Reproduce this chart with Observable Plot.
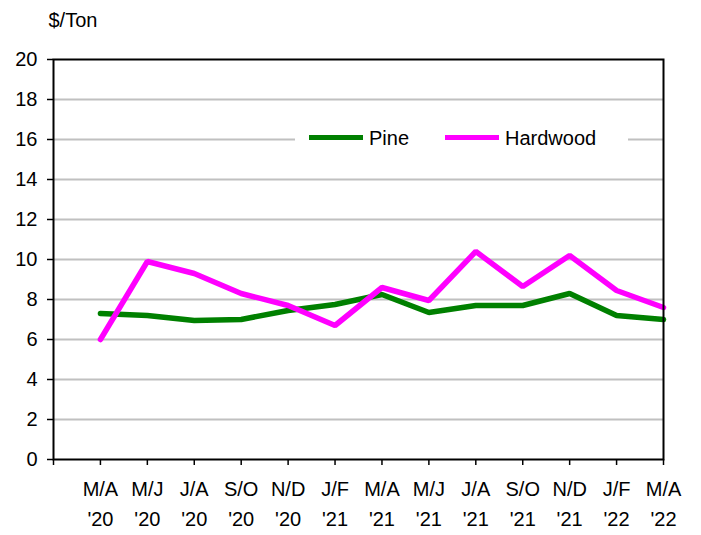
<!DOCTYPE html>
<html>
<head>
<meta charset="utf-8">
<script src="https://cdn.jsdelivr.net/npm/d3@7"></script>
<script src="https://cdn.jsdelivr.net/npm/@observablehq/plot@0.6"></script>
<style>
  body { margin: 0; background: #fff; font-family: "Liberation Sans", Arial, sans-serif; }
  #wrap { position: relative; width: 701px; height: 535px; }
  #legend { position: absolute; left: 295px; top: 126px; width: 333px; height: 24px; background: #fff; }
  .sw { position: absolute; height: 5px; top: 9px; }
  .lt { position: absolute; top: 0px; font-size: 20px; line-height: 24px; color: #000; }
</style>
</head>
<body>
<div id="wrap"></div>
<script>
const categories = ["M/A '20","M/J '20","J/A '20","S/O '20","N/D '20","J/F '21","M/A '21","M/J '21","J/A '21","S/O '21","N/D '21","J/F '22","M/A '22"];
const pine =     [7.3, 7.2, 6.95, 7.0, 7.45, 7.75, 8.25, 7.35, 7.7, 7.7, 8.3, 7.2, 7.0];
const hardwood = [6.0, 9.9, 9.3, 8.3, 7.7, 6.7, 8.6, 7.95, 10.4, 8.65, 10.2, 8.45, 7.6];
const yTicks = [0, 2, 4, 6, 8, 10, 12, 14, 16, 18, 20];
const seriesNames = ["Pine", "Hardwood"];
const seriesColors = ["#008000", "#ff00ff"];

const data = categories.flatMap((c, i) => [
  {cat: c, series: "Pine", value: pine[i]},
  {cat: c, series: "Hardwood", value: hardwood[i]}
]);
const xDomain = ["", ...categories];

const chart = Plot.plot({
  width: 701, height: 535,
  marginLeft: 53, marginRight: 38, marginTop: 59, marginBottom: 76,
  style: {fontFamily: "'Liberation Sans', Arial, sans-serif", fontSize: "20px", color: "#000", background: "#fff"},
  x: {type: "point", domain: xDomain, padding: 0, round: false, inset: 0, axis: null},
  y: {domain: [0, 20], axis: null},
  color: {domain: seriesNames, range: seriesColors},
  marks: [
    Plot.ruleY(yTicks.filter(v => v > 0 && v < 20), {stroke: "#c0c0c0", strokeWidth: 2}),
    Plot.axisY({ticks: yTicks, tickSize: 6, tickPadding: 10, strokeWidth: 1.5, fontSize: 20, label: null}),
    Plot.axisX({ticks: xDomain, tickSize: 6, tickFormat: () => "", strokeWidth: 1.5, label: null}),
    Plot.text(categories, {x: d => d, frameAnchor: "bottom", dy: 36, text: d => d.split(" ")[0], fontSize: 20}),
    Plot.text(categories, {x: d => d, frameAnchor: "bottom", dy: 66, text: d => d.split(" ")[1], fontSize: 20}),
    Plot.text(["$/Ton"], {frameAnchor: "top-left", textAnchor: "start", dx: -5, dy: -47, fontSize: 20}),
    Plot.line(data, {x: "cat", y: "value", z: "series", stroke: "series", strokeWidth: 5.5, strokeLinejoin: "miter"}),
    Plot.frame({stroke: "#000", strokeWidth: 2})
  ]
});
const wrap = document.getElementById("wrap");
wrap.appendChild(chart);

const legend = document.createElement("div");
legend.id = "legend";
const items = [
  {name: "Pine", color: seriesColors[0], sx: 14, tx: 74},
  {name: "Hardwood", color: seriesColors[1], sx: 150, tx: 210}
];
items.forEach(it => {
  const s = document.createElement("div");
  s.className = "sw"; s.style.left = it.sx + "px"; s.style.width = "54px"; s.style.background = it.color;
  legend.appendChild(s);
  const t = document.createElement("div");
  t.className = "lt"; t.style.left = it.tx + "px"; t.textContent = it.name;
  legend.appendChild(t);
});
wrap.appendChild(legend);
</script>
</body>
</html>
